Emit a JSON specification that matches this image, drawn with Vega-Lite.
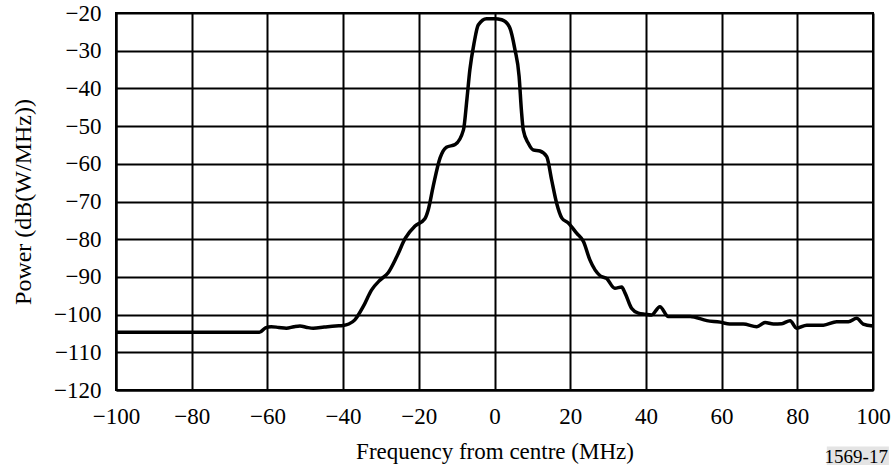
{
  "$schema": "https://vega.github.io/schema/vega-lite/v6.json",
  "width": 757,
  "height": 377,
  "autosize": "none",
  "padding": {"left": 116, "top": 13, "right": 20, "bottom": 86},
  "background": "white",
  "resolve": {"axis": {"x": "independent", "y": "independent"}},
  "config": {
    "view": {"stroke": "black", "strokeWidth": 2},
    "axis": {
      "labelFont": "Liberation Serif",
      "titleFont": "Liberation Serif",
      "labelFontSize": 23,
      "titleFontSize": 23,
      "titleFontWeight": "normal",
      "labelColor": "black",
      "titleColor": "black",
      "gridColor": "black",
      "gridWidth": 2,
      "gridOpacity": 1,
      "domainColor": "black",
      "domainWidth": 2,
      "ticks": false,
      "labelOverlap": false,
      "labelFlush": false,
      "labelExpr": "replace(datum.label, '-', '\u2212')"
    }
  },
  "layer": [
    {
      "data": {
        "values": [
          {"f": -100, "p": -104.7},
          {"f": -80, "p": -104.7},
          {"f": -62.1, "p": -104.7},
          {"f": -60.5, "p": -103.5},
          {"f": -59, "p": -103.2},
          {"f": -57, "p": -103.4},
          {"f": -55, "p": -103.6},
          {"f": -53, "p": -103.2},
          {"f": -51.4, "p": -103.0},
          {"f": -49.5, "p": -103.4},
          {"f": -47.9, "p": -103.6},
          {"f": -45, "p": -103.3},
          {"f": -42, "p": -103.0},
          {"f": -40, "p": -102.9},
          {"f": -38.5, "p": -102.5},
          {"f": -36.9, "p": -101.4},
          {"f": -34.7, "p": -97.9},
          {"f": -32.5, "p": -93.5},
          {"f": -30.2, "p": -90.8},
          {"f": -28.1, "p": -88.9},
          {"f": -25.8, "p": -84.6},
          {"f": -23.6, "p": -79.8},
          {"f": -21, "p": -76.5},
          {"f": -18.4, "p": -74.6},
          {"f": -17.5, "p": -72.2},
          {"f": -16.2, "p": -66},
          {"f": -14.4, "p": -58.5},
          {"f": -12.7, "p": -55.6},
          {"f": -10.4, "p": -54.9},
          {"f": -8.2, "p": -51},
          {"f": -7.3, "p": -43},
          {"f": -6.5, "p": -35},
          {"f": -5.4, "p": -28},
          {"f": -4.3, "p": -23.2},
          {"f": -2.1, "p": -21.5},
          {"f": 0, "p": -21.5},
          {"f": 1.9, "p": -21.8},
          {"f": 3.9, "p": -23.6},
          {"f": 5.4, "p": -29.7},
          {"f": 6.5, "p": -36.8},
          {"f": 7.1, "p": -45.7},
          {"f": 7.6, "p": -51},
          {"f": 8.9, "p": -54.5},
          {"f": 10.2, "p": -56.3},
          {"f": 12, "p": -56.6},
          {"f": 13.8, "p": -58.1},
          {"f": 15.1, "p": -64.3},
          {"f": 16.4, "p": -70.4},
          {"f": 17.8, "p": -74.4},
          {"f": 19.5, "p": -75.7},
          {"f": 21.7, "p": -78.4},
          {"f": 23.5, "p": -80.6},
          {"f": 25.2, "p": -85.5},
          {"f": 27.9, "p": -89.7},
          {"f": 29.6, "p": -90.4},
          {"f": 31.8, "p": -93},
          {"f": 33.6, "p": -92.7},
          {"f": 34.5, "p": -94.3},
          {"f": 36.2, "p": -98.3},
          {"f": 38, "p": -99.6},
          {"f": 39.8, "p": -99.9},
          {"f": 41.5, "p": -100.1},
          {"f": 43.7, "p": -97.9},
          {"f": 45.9, "p": -100.5},
          {"f": 49, "p": -100.5},
          {"f": 51.7, "p": -100.5},
          {"f": 56.1, "p": -101.6},
          {"f": 59.6, "p": -102},
          {"f": 62.2, "p": -102.5},
          {"f": 65.7, "p": -102.5},
          {"f": 69.3, "p": -103.2},
          {"f": 71.5, "p": -102.1},
          {"f": 73.7, "p": -102.5},
          {"f": 75.9, "p": -102.4},
          {"f": 78.1, "p": -101.6},
          {"f": 79.8, "p": -103.6},
          {"f": 82.5, "p": -102.8},
          {"f": 86.9, "p": -102.8},
          {"f": 90.4, "p": -101.9},
          {"f": 93.5, "p": -101.9},
          {"f": 95.7, "p": -101},
          {"f": 97.4, "p": -102.5},
          {"f": 100, "p": -103}
        ]
      },
      "mark": {"type": "line", "color": "black", "strokeWidth": 3.5, "interpolate": "monotone"},
      "encoding": {
        "x": {
          "field": "f",
          "type": "quantitative",
          "scale": {"domain": [-100, 100], "nice": false},
          "axis": {"values": [-100, -80, -60, -40, -20, 0, 20, 40, 60, 80, 100], "title": "Frequency from centre (MHz)", "labelPadding": 15, "titlePadding": 12}
        },
        "y": {
          "field": "p",
          "type": "quantitative",
          "scale": {"domain": [-120, -20], "nice": false, "zero": false},
          "axis": {"values": [-120, -110, -100, -90, -80, -70, -60, -50, -40, -30, -20], "title": "Power (dB(W/MHz))", "titleFontSize": 24, "labelPadding": 15, "titlePadding": 18}
        }
      }
    },
    {
      "data": {"values": [{"label": "1569-17"}]},
      "layer": [
        {
          "mark": {"type": "rect", "fill": "#e4e4e4", "clip": false},
          "encoding": {
            "x": {"datum": 87.8, "axis": null},
            "x2": {"datum": 104.2},
            "y": {"datum": -135.0, "axis": null},
            "y2": {"datum": -139.9}
          }
        },
        {
          "mark": {"type": "text", "font": "Liberation Serif", "fontSize": 19, "align": "right", "baseline": "middle", "color": "black", "dx": -1, "dy": 1, "clip": false},
          "encoding": {
            "text": {"field": "label"},
            "x": {"datum": 104.2, "axis": null},
            "y": {"datum": -137.5, "axis": null}
          }
        }
      ]
    }
  ]
}
